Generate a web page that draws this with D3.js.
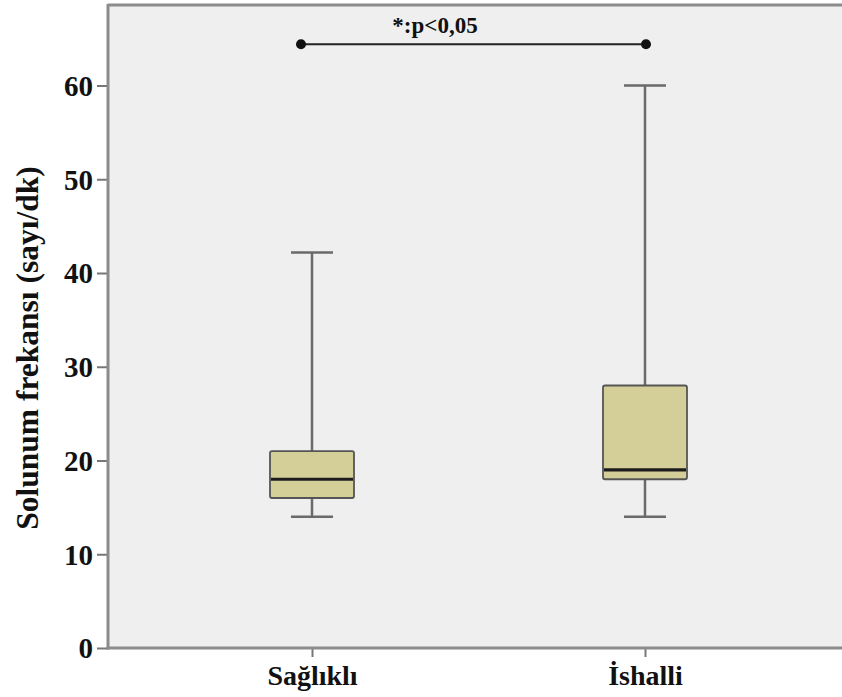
<!DOCTYPE html>
<html>
<head>
<meta charset="utf-8">
<script src="https://cdn.jsdelivr.net/npm/d3@7"></script>
<style>
  html, body { margin: 0; padding: 0; background: #fff; }
  svg text { font-family: "Liberation Serif", "Times New Roman", serif; font-weight: bold; fill: #111; }
</style>
</head>
<body>
<svg id="chart" width="842" height="697"></svg>
<script>
// Respiratory rate (breaths/min) by group
const categories = ["Sağlıklı", "İshalli"];
const whiskerLow  = [14, 14];
const q1          = [16, 18];
const medians     = [18, 19];
const q3          = [21, 28];
const whiskerHigh = [42.2, 60];
const yTicks = [0, 10, 20, 30, 40, 50, 60];
const yTitle = "Solunum frekansı (sayı/dk)";
const sigLabel = "*:p<0,05";
const sigLevel = 64.4;

const svg = d3.select("#chart");
const plot = { left: 108, top: 4, right: 846, bottom: 648 };

const y = d3.scaleLinear().domain([0, 60]).range([648, 85.5]);
const x = d3.scalePoint().domain(categories).range([312, 645]);

// plot background
svg.append("rect")
  .attr("x", plot.left).attr("y", plot.top)
  .attr("width", plot.right - plot.left).attr("height", plot.bottom - plot.top)
  .attr("fill", "#efefef");

// top frame line
svg.append("line")
  .attr("x1", plot.left).attr("x2", plot.right)
  .attr("y1", plot.top + 1).attr("y2", plot.top + 1)
  .attr("stroke", "#8c8c8c").attr("stroke-width", 3);

// y axis
const yAxis = d3.axisLeft(y).tickValues(yTicks).tickSize(11).tickPadding(4).tickFormat(d3.format("d"));
const gy = svg.append("g").attr("transform", `translate(${plot.left},0)`).call(yAxis);
gy.select(".domain").remove();
gy.selectAll(".tick line").attr("stroke", "#777").attr("stroke-width", 2);
gy.selectAll(".tick text").style("font-size", "29px").attr("dy", "0.34em");
svg.append("line")
  .attr("x1", plot.left).attr("x2", plot.left)
  .attr("y1", plot.top).attr("y2", plot.bottom + 1.5)
  .attr("stroke", "#8c8c8c").attr("stroke-width", 3);

// x axis
const xAxis = d3.axisBottom(x).tickSize(9).tickPadding(8);
const gx = svg.append("g").attr("transform", `translate(0,${plot.bottom})`).call(xAxis);
gx.select(".domain").remove();
gx.selectAll(".tick line").attr("stroke", "#777").attr("stroke-width", 2);
gx.selectAll(".tick text").style("font-size", "28px").attr("dy", "0.71em");
svg.append("line")
  .attr("x1", plot.left - 1.5).attr("x2", plot.right)
  .attr("y1", plot.bottom).attr("y2", plot.bottom)
  .attr("stroke", "#8c8c8c").attr("stroke-width", 3);

// y axis title
svg.append("text")
  .attr("transform", `translate(38,348) rotate(-90)`)
  .attr("text-anchor", "middle")
  .style("font-size", "31.5px")
  .text(yTitle);

// box plots
const boxW = 84, capW = 42;
const groups = svg.append("g").selectAll("g").data(categories).join("g")
  .attr("transform", d => `translate(${x(d)},0)`);

groups.append("line")
  .attr("y1", (d, i) => y(whiskerHigh[i])).attr("y2", (d, i) => y(q3[i]))
  .attr("stroke", "#6a6a6a").attr("stroke-width", 2.5);
groups.append("line")
  .attr("y1", (d, i) => y(q1[i])).attr("y2", (d, i) => y(whiskerLow[i]))
  .attr("stroke", "#6a6a6a").attr("stroke-width", 2.5);
groups.append("line")
  .attr("x1", -capW / 2).attr("x2", capW / 2)
  .attr("y1", (d, i) => y(whiskerHigh[i])).attr("y2", (d, i) => y(whiskerHigh[i]))
  .attr("stroke", "#6a6a6a").attr("stroke-width", 2.5);
groups.append("line")
  .attr("x1", -capW / 2).attr("x2", capW / 2)
  .attr("y1", (d, i) => y(whiskerLow[i])).attr("y2", (d, i) => y(whiskerLow[i]))
  .attr("stroke", "#6a6a6a").attr("stroke-width", 2.5);
groups.append("rect")
  .attr("x", -boxW / 2).attr("width", boxW)
  .attr("y", (d, i) => y(q3[i])).attr("height", (d, i) => y(q1[i]) - y(q3[i]))
  .attr("rx", 2)
  .attr("fill", "#d4cf98").attr("stroke", "#555").attr("stroke-width", 1.8);
groups.append("line")
  .attr("x1", -boxW / 2 + 1).attr("x2", boxW / 2 - 1)
  .attr("y1", (d, i) => y(medians[i])).attr("y2", (d, i) => y(medians[i]))
  .attr("stroke", "#1c1c1c").attr("stroke-width", 3.2);

// significance bracket
const sx1 = x(categories[0]) - 11, sx2 = x(categories[1]) + 1;
svg.append("line")
  .attr("x1", sx1).attr("x2", sx2)
  .attr("y1", y(sigLevel)).attr("y2", y(sigLevel))
  .attr("stroke", "#222").attr("stroke-width", 2);
svg.selectAll("circle.sig").data([sx1, sx2]).join("circle")
  .attr("class", "sig")
  .attr("cx", d => d).attr("cy", y(sigLevel)).attr("r", 5)
  .attr("fill", "#111");
svg.append("text")
  .attr("x", 435).attr("y", y(sigLevel) - 11)
  .attr("text-anchor", "middle")
  .style("font-size", "23px")
  .text(sigLabel);
</script>
</body>
</html>
